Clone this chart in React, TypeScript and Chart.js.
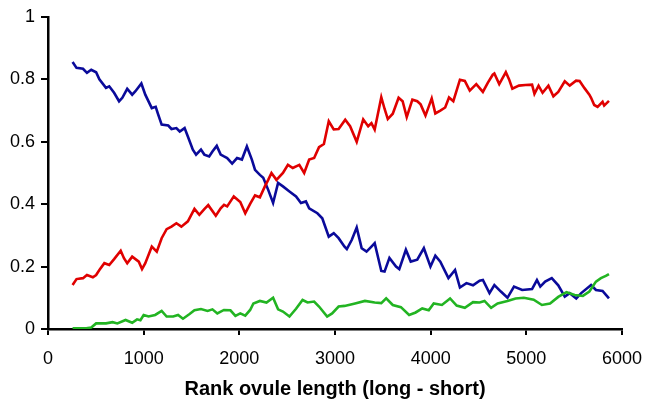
import React, { useEffect, useRef } from "react";
import { Chart, registerables } from "chart.js";

Chart.register(...registerables);

const blueX = [257, 298, 366, 407, 452, 503, 537, 606, 640, 691, 743, 777, 828, 880, 914, 976, 1017, 1085, 1126, 1147, 1188, 1257, 1291, 1342, 1377, 1428, 1462, 1514, 1548, 1599, 1634, 1685, 1719, 1764, 1805, 1840, 1873, 1925, 1976, 2027, 2079, 2131, 2164, 2215, 2250, 2302, 2353, 2405, 2456, 2524, 2593, 2644, 2696, 2730, 2816, 2867, 2935, 2987, 3038, 3100, 3124, 3176, 3227, 3279, 3330, 3381, 3415, 3484, 3518, 3569, 3638, 3672, 3741, 3792, 3860, 3929, 3998, 4049, 4101, 4186, 4255, 4306, 4374, 4443, 4512, 4546, 4615, 4666, 4734, 4803, 4871, 4957, 5060, 5111, 5146, 5197, 5266, 5334, 5402, 5454, 5522, 5574, 5677, 5728, 5797, 5864];
const blueY = [0.856, 0.837, 0.834, 0.821, 0.831, 0.823, 0.8, 0.773, 0.778, 0.757, 0.73, 0.741, 0.77, 0.751, 0.762, 0.787, 0.751, 0.708, 0.712, 0.692, 0.655, 0.652, 0.641, 0.644, 0.633, 0.644, 0.617, 0.575, 0.559, 0.575, 0.559, 0.553, 0.569, 0.587, 0.559, 0.553, 0.548, 0.53, 0.548, 0.543, 0.585, 0.543, 0.51, 0.494, 0.485, 0.446, 0.404, 0.468, 0.457, 0.441, 0.425, 0.404, 0.409, 0.387, 0.371, 0.355, 0.296, 0.307, 0.291, 0.264, 0.256, 0.286, 0.325, 0.259, 0.248, 0.264, 0.275, 0.186, 0.184, 0.228, 0.2, 0.192, 0.254, 0.216, 0.222, 0.259, 0.2, 0.235, 0.216, 0.163, 0.189, 0.133, 0.147, 0.14, 0.155, 0.157, 0.115, 0.141, 0.12, 0.1, 0.136, 0.125, 0.128, 0.157, 0.136, 0.152, 0.163, 0.14, 0.104, 0.115, 0.098, 0.115, 0.141, 0.125, 0.122, 0.098];

const redX = [257, 298, 366, 407, 469, 503, 537, 589, 640, 691, 760, 794, 828, 880, 949, 983, 1017, 1085, 1137, 1188, 1240, 1291, 1342, 1394, 1462, 1531, 1582, 1634, 1675, 1754, 1805, 1840, 1873, 1942, 2010, 2062, 2113, 2164, 2215, 2267, 2302, 2336, 2388, 2456, 2508, 2559, 2627, 2678, 2730, 2782, 2833, 2884, 2935, 2987, 3038, 3107, 3158, 3227, 3295, 3347, 3381, 3415, 3484, 3518, 3552, 3604, 3665, 3707, 3750, 3809, 3860, 3895, 3946, 4011, 4049, 4101, 4152, 4192, 4237, 4306, 4357, 4409, 4477, 4546, 4597, 4649, 4666, 4717, 4786, 4820, 4854, 4923, 4991, 5060, 5085, 5128, 5170, 5231, 5283, 5334, 5402, 5454, 5520, 5557, 5608, 5659, 5677, 5710, 5745, 5797, 5814, 5864];
const redY = [0.141, 0.16, 0.163, 0.173, 0.166, 0.173, 0.189, 0.211, 0.205, 0.224, 0.251, 0.227, 0.211, 0.232, 0.216, 0.192, 0.211, 0.264, 0.248, 0.291, 0.32, 0.328, 0.339, 0.328, 0.345, 0.385, 0.366, 0.384, 0.397, 0.363, 0.387, 0.398, 0.393, 0.425, 0.407, 0.371, 0.401, 0.428, 0.422, 0.457, 0.478, 0.5, 0.478, 0.5, 0.526, 0.516, 0.526, 0.5, 0.543, 0.548, 0.583, 0.593, 0.666, 0.64, 0.641, 0.671, 0.65, 0.6, 0.672, 0.65, 0.66, 0.639, 0.743, 0.706, 0.673, 0.69, 0.741, 0.73, 0.679, 0.735, 0.73, 0.72, 0.684, 0.739, 0.691, 0.7, 0.71, 0.742, 0.73, 0.799, 0.795, 0.764, 0.785, 0.76, 0.789, 0.815, 0.819, 0.785, 0.823, 0.8, 0.77, 0.78, 0.782, 0.783, 0.754, 0.78, 0.757, 0.78, 0.746, 0.76, 0.794, 0.78, 0.796, 0.795, 0.772, 0.751, 0.741, 0.718, 0.712, 0.728, 0.716, 0.731];

const greenX = [257, 400, 452, 503, 606, 675, 725, 811, 880, 931, 966, 1000, 1051, 1120, 1188, 1240, 1308, 1360, 1411, 1480, 1531, 1599, 1668, 1719, 1770, 1839, 1907, 1959, 2010, 2062, 2113, 2147, 2215, 2284, 2353, 2405, 2456, 2524, 2593, 2661, 2713, 2782, 2833, 2918, 2970, 3038, 3100, 3210, 3313, 3415, 3484, 3535, 3604, 3689, 3775, 3843, 3912, 3980, 4032, 4118, 4203, 4272, 4357, 4443, 4512, 4563, 4632, 4700, 4803, 4888, 4974, 5077, 5163, 5248, 5334, 5420, 5505, 5591, 5659, 5728, 5780, 5831, 5864];
const greenY = [0.002, 0.002, 0.005, 0.018, 0.018, 0.022, 0.018, 0.029, 0.02, 0.031, 0.028, 0.045, 0.04, 0.045, 0.058, 0.04, 0.04, 0.045, 0.033, 0.048, 0.06, 0.064, 0.058, 0.063, 0.05, 0.061, 0.06, 0.042, 0.05, 0.043, 0.061, 0.082, 0.09, 0.085, 0.1, 0.063, 0.056, 0.04, 0.065, 0.093, 0.085, 0.088, 0.072, 0.04, 0.05, 0.072, 0.074, 0.082, 0.09, 0.085, 0.083, 0.098, 0.077, 0.07, 0.045, 0.053, 0.066, 0.06, 0.082, 0.077, 0.098, 0.075, 0.068, 0.086, 0.085, 0.09, 0.068, 0.082, 0.09, 0.098, 0.1, 0.094, 0.077, 0.082, 0.103, 0.118, 0.109, 0.106, 0.12, 0.152, 0.163, 0.17, 0.176];

const xTicks = [0, 1000, 2000, 3000, 4000, 5000, 6000];
const xTickLabels = ["0", "1000", "2000", "3000", "4000", "5000", "6000"];
const yTicks = [0, 0.2, 0.4, 0.6, 0.8, 1];
const yTickLabels = ["0", "0.2", "0.4", "0.6", "0.8", "1"];
const xTitle = "Rank ovule length (long - short)";

const pts = (xs: number[], ys: number[]) => xs.map((x, i) => ({ x, y: ys[i] }));

export default function App() {
  const ref = useRef<HTMLCanvasElement | null>(null);
  useEffect(() => {
    document.body.style.margin = "0";
    if (!ref.current) return;
    const font = "'Liberation Sans', Arial, Helvetica, sans-serif";
    const chart = new Chart(ref.current, {
      type: "line",
      data: {
        datasets: [
          { data: pts(redX, redY), borderColor: "#e00000", borderWidth: 2.6, pointRadius: 0, tension: 0 },
          { data: pts(greenX, greenY), borderColor: "#22b422", borderWidth: 2.6, pointRadius: 0, tension: 0 },
          { data: pts(blueX, blueY), borderColor: "#0a0a9a", borderWidth: 2.6, pointRadius: 0, tension: 0 },
        ],
      },
      options: {
        animation: false,
        responsive: true,
        maintainAspectRatio: false,
        layout: { padding: { top: 17, right: 23, left: 0, bottom: 0 } },
        plugins: { legend: { display: false }, tooltip: { enabled: false } },
        scales: {
          x: {
            type: "linear",
            min: 0,
            max: 6000,
            afterBuildTicks: (s: any) => { s.ticks = xTicks.map((v) => ({ value: v })); },
            afterFit: (s: any) => { s.height = 76; },
            grid: { display: true, drawOnChartArea: false, drawTicks: true, tickLength: 6, color: "#000", lineWidth: 2 },
            border: { display: true, color: "#000", width: 2.5 },
            ticks: {
              color: "#000",
              font: { family: font, size: 18 },
              padding: 13,
              maxRotation: 0,
              callback: (v: any) => { const i = xTicks.indexOf(Number(v)); return i >= 0 ? xTickLabels[i] : ""; },
            },
            title: { display: true, text: xTitle, color: "#000", font: { family: font, size: 20, weight: "bold" }, padding: { top: 8 } },
          },
          y: {
            type: "linear",
            min: 0,
            max: 1,
            afterBuildTicks: (s: any) => { s.ticks = yTicks.map((v) => ({ value: v })); },
            afterFit: (s: any) => { s.width = 48; },
            grid: { display: true, drawOnChartArea: false, drawTicks: true, tickLength: 7, color: "#000", lineWidth: 2 },
            border: { display: true, color: "#000", width: 2.5 },
            ticks: {
              color: "#000",
              font: { family: font, size: 18 },
              padding: 6,
              callback: (v: any) => { const i = yTicks.findIndex((t) => Math.abs(t - Number(v)) < 1e-9); return i >= 0 ? yTickLabels[i] : ""; },
            },
          },
        },
      },
    } as any);
    return () => chart.destroy();
  }, []);
  return (
    <div style={{ width: 655, height: 405, position: "relative" }}>
      <canvas ref={ref} />
    </div>
  );
}
